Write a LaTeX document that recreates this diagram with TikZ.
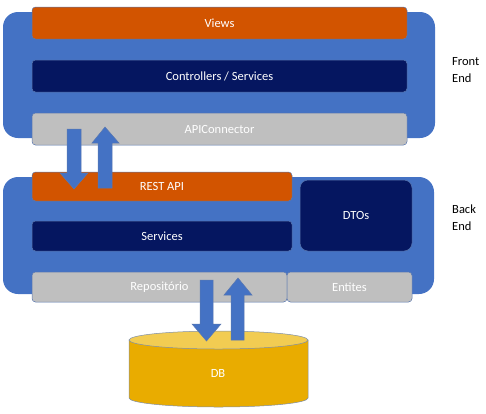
\documentclass[tikz,border=0pt]{standalone}
\usepackage{fontspec}
\setmainfont{Carlito}
\definecolor{outerblue}{HTML}{4472C4}
\definecolor{vieworange}{HTML}{D25400}
\definecolor{navy}{HTML}{051660}
\definecolor{lgray}{HTML}{BFBFBF}
\definecolor{edgeblue}{HTML}{5A78B0}
\definecolor{dbbody}{HTML}{E9AC00}
\definecolor{dbtop}{HTML}{F2CC52}
\definecolor{dbedge}{HTML}{7F8FA8}
\begin{document}
\begin{tikzpicture}[x=1pt,y=-1pt,
  font=\fontsize{12.5}{17}\selectfont,
  layer/.style={fill=outerblue, rounded corners=15pt, draw=none},
  box/.style={rounded corners=3.5pt, draw=edgeblue, line width=0.5pt, text=white,
    inner sep=0pt, outer sep=0pt, anchor=north west},
  orangebox/.style={box, fill=vieworange},
  navybox/.style={box, fill=navy},
  graybox/.style={box, fill=lgray},
  blockarrow/.style={fill=outerblue, draw=edgeblue, line width=0.5pt},
  side/.style={anchor=north west, align=left, inner sep=0pt, text=black}
]
\useasboundingbox (0,0) rectangle (486,413);
% outer layers
\path[layer] (3,12) rectangle (435,138);
\path[layer] (3,177) rectangle (434,294);
% front end boxes
\node[orangebox, minimum width=375pt, minimum height=32pt] (views) at (32,7) {Views};
\node[navybox, minimum width=375pt, minimum height=32pt] (ctrl) at (32,60) {Controllers / Services};
\node[graybox, minimum width=375pt, minimum height=32pt] (apic) at (32,113) {APIConnector};
% back end boxes
\node[orangebox, minimum width=260pt, minimum height=29pt] (rest) at (32,172) {REST API};
\node[navybox, minimum width=260pt, minimum height=30pt] (serv) at (32,221) {Services};
\node[navybox, minimum width=112pt, minimum height=71pt, rounded corners=8pt] (dtos) at (300,180) {DTOs};
\node[graybox, minimum width=255pt, minimum height=30pt] (repo) at (32,272) {Repositório};
\node[graybox, minimum width=125pt, minimum height=30pt] (ent) at (287,272) {Entites};
% DB cylinder
\coordinate (dbc) at (218.5,340);
\path[fill=dbbody, draw=dbedge, line width=0.5pt]
  (129,340) -- (129,398) arc[start angle=180, end angle=360, x radius=89.5pt, y radius=9pt]
  -- (308,340) -- cycle;
\path[fill=dbtop, draw=dbedge, line width=0.5pt] (dbc) ellipse[x radius=89.5pt, y radius=9pt];
\node[text=white, inner sep=0pt] (db) at (218,373) {DB};
% arrows between front end and back end
\path[blockarrow] (67,129) -- (81,129) -- (81,173) -- (88,173) -- (74,189) -- (60,173) -- (67,173) -- cycle;
\path[blockarrow] (98,188) -- (98,143) -- (92,143) -- (105,127) -- (119,143) -- (112,143) -- (112,188) -- cycle;
% arrows between repository and DB
\path[blockarrow] (200,280) -- (213,280) -- (213,324) -- (221,324) -- (206.5,341) -- (192,324) -- (200,324) -- cycle;
\path[blockarrow] (231,340) -- (231,295) -- (224,295) -- (238,278) -- (252,295) -- (244,295) -- (244,340) -- cycle;
% side labels
\node[side] (fe) at (452,57) {Front\\End};
\node[side] (be) at (452,205) {Back\\End};
\end{tikzpicture}
\end{document}
